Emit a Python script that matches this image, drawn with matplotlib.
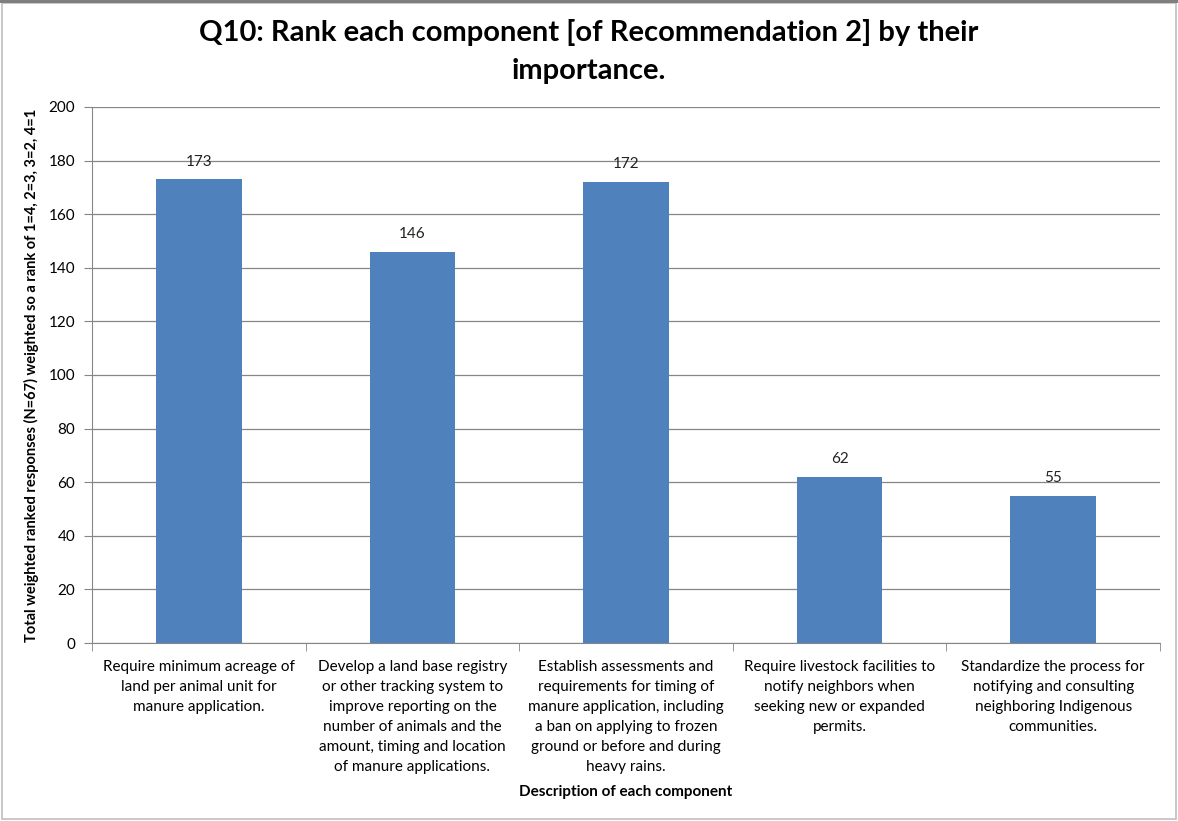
import numpy as np
import matplotlib.pyplot as plt
from matplotlib.patches import Rectangle

plt.rcParams['font.family'] = ['Lato', 'DejaVu Sans']

labels = [
    "Require minimum acreage of\nland per animal unit for\nmanure application.",
    "Develop a land base registry\nor other tracking system to\nimprove reporting on the\nnumber of animals and the\namount, timing and location\nof manure applications.",
    "Establish assessments and\nrequirements for timing of\nmanure application, including\na ban on applying to frozen\nground or before and during\nheavy rains.",
    "Require livestock facilities to\nnotify neighbors when\nseeking new or expanded\npermits.",
    "Standardize the process for\nnotifying and consulting\nneighboring Indigenous\ncommunities.",
]
scores = [173, 146, 172, 62, 55]

fig = plt.figure(figsize=(11.78, 8.21), dpi=100)
ax = fig.add_axes([0.0781, 0.2168, 0.9066, 0.6529])

x = np.arange(len(scores))
bars = ax.bar(x, scores, width=0.40, color='#4F81BD', zorder=3)
for b, v in zip(bars, scores):
    ax.text(b.get_x() + b.get_width() / 2, v + 4, str(v), ha='center', va='bottom',
            fontsize=11, color='#222222')

ax.set_xlim(-0.5, len(scores) - 0.5)
ax.set_ylim(0, 200)
ax.set_yticks(np.arange(0, 201, 20))
ax.yaxis.grid(True, color='#868686', linewidth=0.9, zorder=0)
ax.set_axisbelow(True)

# category labels centred, tick marks on the boundaries
ax.set_xticks(x)
ax.set_xticklabels(labels, fontsize=11, linespacing=1.55, va='top')
ax.tick_params(axis='x', length=0, pad=12)
ax.set_xticks(np.arange(-0.5, len(scores), 1.0), minor=True)
ax.tick_params(axis='x', which='minor', length=6, color='#868686', direction='out')
ax.tick_params(axis='y', length=6, color='#868686', labelsize=11, pad=6)

for s in ['top', 'right']:
    ax.spines[s].set_visible(False)
for s in ['left', 'bottom']:
    ax.spines[s].set_color('#868686')

ax.set_ylabel("Total weighted ranked responses (N=67) weighted so a rank of 1=4, 2=3, 3=2, 4=1",
              fontsize=10.5, fontweight='bold', labelpad=7)
ax.set_xlabel("Description of each component", fontsize=11, fontweight='bold', labelpad=8)

fig.text(0.5, 0.960, "Q10: Rank each component [of Recommendation 2] by their", ha='center',
         va='center', fontsize=21, fontweight='bold')
fig.text(0.5, 0.914, "importance.", ha='center', va='center', fontsize=21, fontweight='bold')

# chart frame
fig.patches.append(Rectangle((0.002, 0.002), 0.996, 0.994, transform=fig.transFigure,
                             fill=False, edgecolor='#BFBFBF', linewidth=1.2))
fig.patches.append(Rectangle((0, 0.996), 1, 0.004, transform=fig.transFigure,
                             facecolor='#7F7F7F', edgecolor='none'))

fig.savefig('out.png', dpi=100)
